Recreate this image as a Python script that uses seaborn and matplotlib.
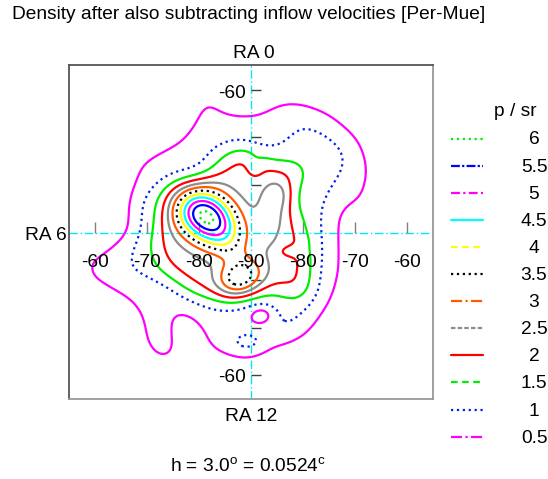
import numpy as np
import matplotlib
matplotlib.use("Agg")
import matplotlib.pyplot as plt
from matplotlib.path import Path
import seaborn as sns

sns.set_theme(style="white")
plt.rcParams['font.family'] = ['Liberation Sans', 'DejaVu Sans']
plt.rcParams['text.color'] = 'black'

# contour levels (p / sr) and their styles
levels = [0.5, 1, 1.5, 2, 2.5, 3, 3.5, 4, 4.5, 5, 5.5, 6]
level_labels = ['0.5', '1', '1.5', '2', '2.5', '3', '3.5', '4', '4.5', '5', '5.5', '6']
level_colors = ['#ff00ff', '#0022ee', '#00ee00', '#ff0000', '#8c8c8c', '#ff5a00',
                '#000000', '#ffff00', '#00ffff', '#ff00ff', '#0000ff', '#00ee00']
plot_styles = ['-', ':', '-', '-', '-', '-', ':', '-', '-', '-', '-', ':']
legend_styles = [(0, (5, 1.5, 1, 1.5)), ':', (0, (3, 2)), '-', (0, (2, 1)),
                 (0, (5, 1.5, 1, 1.5)), ':', (0, (3, 2)), '-',
                 (0, (4, 1.5, 1, 1.5)), (0, (4, 1, 1, 1)), ':']

# star-density regions (degrees from the pole), smoothed afterwards
outer_x = [-8.3, -5.2, -3.4, 1.5, 2.6, 3.2, 8.1, 15.6, 21.4, 24.3, 22.8, 17.5, 17.9, 18.3,
           18.6, 16.5, 12.2, 4.9, -0.2, -9.2, -11.7, -12.6, -13.5, -13.5, -12.3, -17.5,
           -22.0, -22.6, -25.0, -32.5, -34.0, -27.0, -23.0, -24.0, -23.0, -14.5, -13.0, -11.5]
outer_y = [33.5, 26.8, 26.5, 26.3, 27.4, 28.6, 29.4, 26.3, 20.6, 13.2, 4.3, 5.0, 2.7, -2.9,
           -8.5, -14.9, -21.3, -25.8, -28.7, -26.3, -17.7, -14.8, -16.5, -19.6, -27.0, -29.5,
           -24.5, -17.8, -14.6, -10.8, -5.0, -1.5, -0.2, 4.8, 15.5, 20.6, 22.5, 26.5]
mid_x = [-10.2, -8.2, -0.8, 3.0, 9.3, 15.2, 19.6, 19.4, 16.0, 14.6, 13.9, 12.6, 8.6, 4.6,
         3.1, 0.4, -4.7, -10.3, -16.1, -19.0, -24.6, -25.0, -23.6, -22.3, -22.3, -21.9,
         -18.5, -13.7]
mid_y = [11.0, 18.8, 20.0, 16.5, 24.7, 21.8, 17.9, 12.9, 8.2, 3.4, -5.7, -12.9, -21.6, -21.0,
         -17.0, -14.5, -17.1, -15.3, -10.5, -10.1, -9.0, -7.3, -2.1, 0.0, 4.8, 7.5, 9.5, 11.0]
inner_x = [-6.5, -3.4, 1.0, 4.9, 10.0, 10.5, 7.0, 9.8, 11.0, 11.3, 9.5, 6.1, 1.6, -3.4,
           -11.0, -17.3, -18.8, -16.5, -13.5, -9.5]
inner_y = [13.5, 17.6, 17.1, 13.3, 15.2, 13.0, 8.3, 1.3, -2.9, -12.4, -14.5, -12.0, -11.5,
           -13.0, -12.8, -7.5, -2.9, 4.0, 7.0, 9.5]
region_density = [0.6, 0.55, 1.05]

# compact clumps and gaps: centre, widths, tilt, height
blob_x = [-8.7, -4.5, -2.1, -2.5, 3.8, 5.2, -0.8, 2.2, 7.2, 0.8]
blob_y = [3.4, -2.0, -9.6, -5.5, 3.5, 8.0, -22.8, -17.2, -3.9, 13.8]
blob_sx = [4.9, 3.0, 3.1, 2.0, 2.0, 2.0, 2.0, 1.7, 1.9, 1.2]
blob_sy = [3.5, 2.2, 2.6, 2.0, 5.0, 2.0, 1.4, 1.4, 1.0, 1.8]
blob_ang = [-45, -55, 30, 0, -10, 0, 0, 0, 0, 0]
blob_amp = [3.95, 0.4, 1.75, 0.05, 0.6, 0.35, 0.6, -0.55, -0.28, -0.3]

smooth = 2.3
step = 0.25
g = np.arange(-42, 42 + step / 2, step)
gx, gy = np.meshgrid(g, g)
pts = np.column_stack([gx.ravel(), gy.ravel()])

Z = np.zeros_like(gx)
for rx, ry, d in zip([outer_x, mid_x, inner_x], [outer_y, mid_y, inner_y], region_density):
    inside = Path(np.column_stack([rx, ry])).contains_points(pts).reshape(gx.shape)
    Z += d * inside
k = np.arange(-4 * smooth, 4 * smooth + step / 2, step)
kern = np.exp(-0.5 * (k / smooth) ** 2)
kern /= kern.sum()
Z = np.apply_along_axis(lambda r: np.convolve(r, kern, mode='same'), 0, Z)
Z = np.apply_along_axis(lambda r: np.convolve(r, kern, mode='same'), 1, Z)

for x0, y0, sx, sy, ang, a in zip(blob_x, blob_y, blob_sx, blob_sy, blob_ang, blob_amp):
    t = np.deg2rad(ang)
    dx, dy = gx - x0, gy - y0
    u = dx * np.cos(t) + dy * np.sin(t)
    v = -dx * np.sin(t) + dy * np.cos(t)
    Z += a * np.exp(-0.5 * ((u / sx) ** 2 + (v / sy) ** 2))

W, H = 548, 479
fig = plt.figure(figsize=(W / 100, H / 100), dpi=100)
fig.patch.set_facecolor('white')
ax = fig.add_axes([69 / W, 1 - 399.3 / H, 363.7 / W, 334.3 / H])
ax.set_facecolor('white')

ax.axhline(0, color='#00e8f0', lw=1, ls=(0, (6, 2, 1, 2)), zorder=1)
ax.axvline(0, color='#00e8f0', lw=1, ls=(0, (6, 2, 1, 2)), zorder=1)

tick_pos = [-30, -20, -10, 10, 20, 30]
ax.vlines(tick_pos, 0, 2.2, color='#808080', lw=1, zorder=1)
ax.hlines(tick_pos, 0, 2.0, color='#404040', lw=1, zorder=1)

ax.contour(gx, gy, Z, levels=levels, colors=level_colors, linestyles=plot_styles,
           linewidths=1.6, zorder=3)

ax.set_xlim(-35, 35)
ax.set_ylim(-35, 35.2)
ax.set_xticks([])
ax.set_yticks([])
for side in ['left', 'top']:
    ax.spines[side].set_color('#555555')
for side in ['right', 'bottom']:
    ax.spines[side].set_color('#999999')
for s in ax.spines.values():
    s.set_linewidth(1.3)

dec_labels = ['-60', '-70', '-80', '-90', '-80', '-70', '-60']
dec_pos = [-30, -20, -10, 0, 10, 20, 30]
fs = 13.8
for xp, lab in zip(dec_pos, dec_labels):
    ax.text(xp, -7.3, lab, ha='center', va='baseline', fontsize=fs, zorder=4)
ax.text(-1.0, 28.2, '-60', ha='right', va='baseline', fontsize=fs)
ax.text(-1.0, -31.3, '-60', ha='right', va='baseline', fontsize=fs)


# frame labels and title (pixel positions of the figure)
def fx(px):
    return px / W


def fy(py):
    return 1 - py / H


fig.text(fx(12.5), fy(19), 'Density after also subtracting inflow velocities [Per-Mue]',
         fontsize=fs, ha='left', va='baseline')
fig.text(fx(254), fy(58), 'RA 0', fontsize=fs, ha='center', va='baseline')
fig.text(fx(251), fy(421), 'RA 12', fontsize=fs, ha='center', va='baseline')
fig.text(fx(67), fy(240), 'RA 6', fontsize=fs, ha='right', va='baseline')
fig.text(fx(248), fy(471.5), r'h = 3.0$^\mathregular{o}$ = 0.0524$^\mathregular{c}$',
         fontsize=fs, ha='center', va='baseline')

# legend drawn in pixel space
lax = fig.add_axes([0, 0, 1, 1], zorder=-1)
lax.set_xlim(0, W)
lax.set_ylim(H, 0)
lax.axis('off')
lax.text(515, 116, 'p / sr', fontsize=fs, ha='center', va='baseline')
row0, drow = 138.5, 27.1
for i, j in enumerate(range(len(levels) - 1, -1, -1)):
    yy = row0 + i * drow
    lax.plot([451, 483], [yy, yy], color=level_colors[j], ls=legend_styles[j], lw=1.6)
    lax.text(534, yy + 6, level_labels[j], fontsize=fs, ha='center', va='baseline')

fig.savefig('out.png', dpi=100, facecolor='white')
